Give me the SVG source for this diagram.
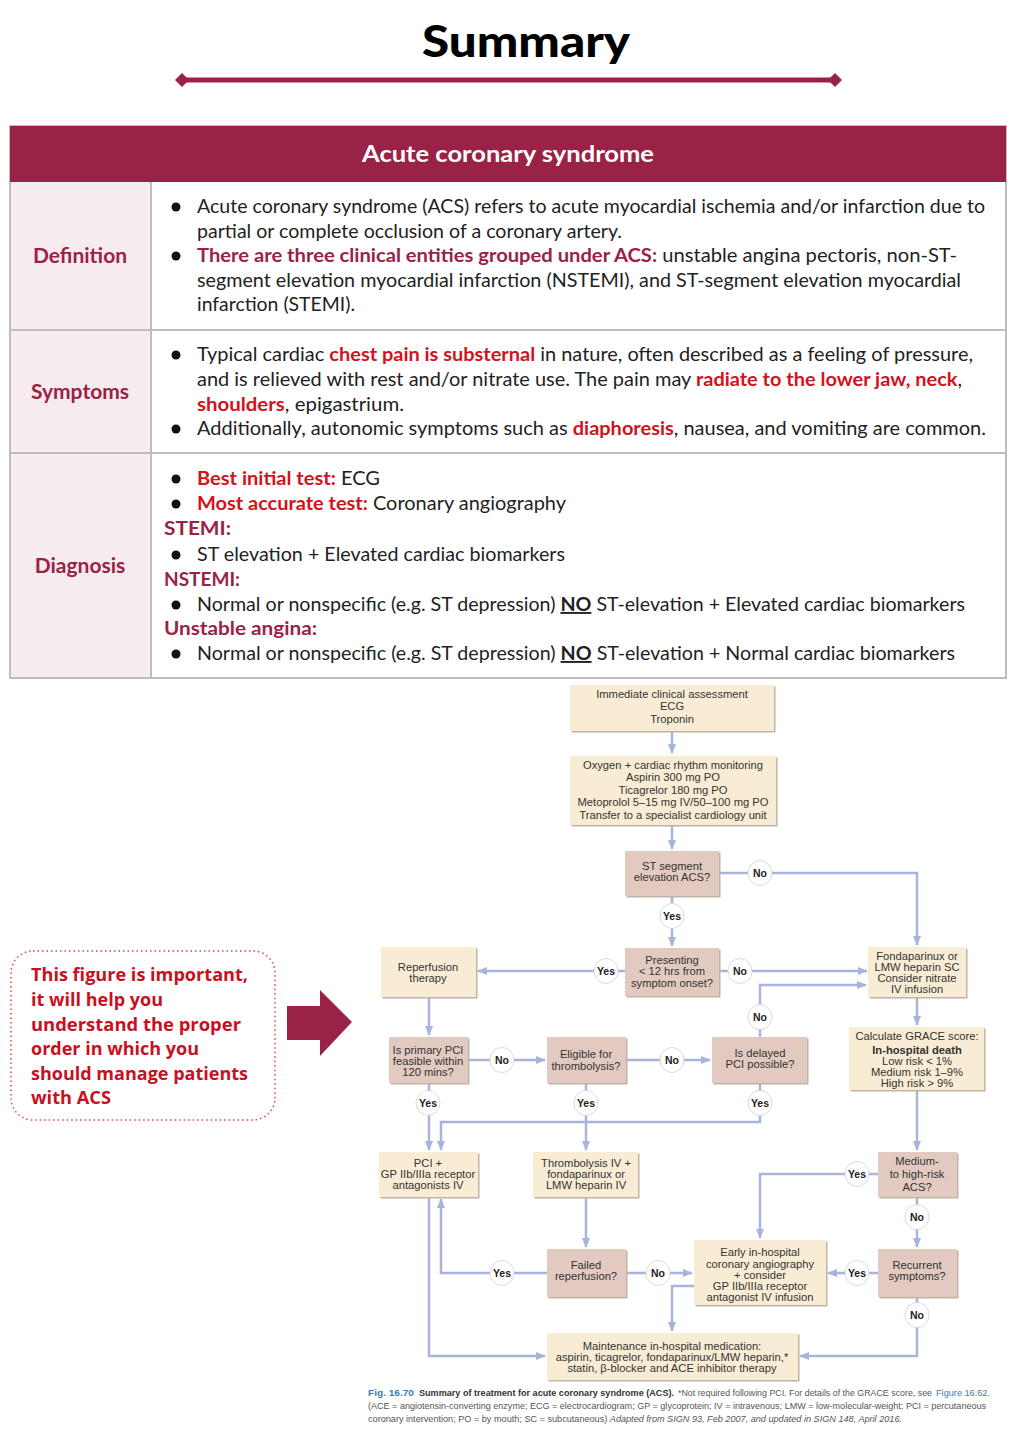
<svg xmlns="http://www.w3.org/2000/svg" width="1024" height="1444" viewBox="0 0 1024 1444">
<style>
.body{font-family:Lato,"Open Sans","Liberation Sans",sans-serif;font-size:19px;fill:#222}
.red{fill:#d2121c;font-weight:bold}
.mar{fill:#9b2247;font-weight:bold}
.lab{font-family:Lato,"Open Sans",sans-serif;font-size:21px;font-weight:bold;fill:#9b2247;text-anchor:middle}
.bul{fill:#111}
.fc{font-family:"Liberation Sans",Arial,sans-serif;font-size:11.2px;fill:#333;text-anchor:middle}
.yn{font-family:"Liberation Sans",Arial,sans-serif;font-size:10.5px;font-weight:bold;fill:#222;text-anchor:middle}
.act{fill:#f8edd4}
.dec{fill:#e2cac1}
.sh{fill:#bfb4a6}
.conn{fill:none;stroke:#a9b4dd;stroke-width:2.5}
.ell{fill:#fff;stroke:#d0d0d0;stroke-width:0.8}
.cap{font-family:"Liberation Sans",Arial,sans-serif;font-size:9.5px;fill:#555}
.cap1{font-family:"Liberation Sans",Arial,sans-serif;font-size:8.2px;fill:#555}
.callout{font-family:"Open Sans",Lato,sans-serif;font-size:18.5px;font-weight:bold;fill:#c8101e}
</style>
<defs>
<marker id="ah" markerUnits="userSpaceOnUse" markerWidth="10" markerHeight="10" viewBox="0 0 10 10" refX="9" refY="5" orient="auto">
<path d="M0,1 L10,5 L0,9 Z" fill="#a9b4dd"/>
</marker>
</defs>
<rect width="1024" height="1444" fill="#fff"/>

<!-- Title -->
<g id="title">
<text x="526" y="57" text-anchor="middle" font-family="Lato,'Open Sans',sans-serif" font-size="44" font-weight="900" fill="#000" textLength="208" lengthAdjust="spacingAndGlyphs">Summary</text>
<line x1="181" y1="80" x2="835" y2="80" stroke="#9b2247" stroke-width="5"/>
<polygon points="175,80 182,73 189,80 182,87" fill="#9b2247"/>
<polygon points="828,80 835,73 842,80 835,87" fill="#9b2247"/>
</g>

<!-- Table -->
<g id="table">
<rect x="10" y="126" width="996" height="552" fill="#fff" stroke="#bdbdbd" stroke-width="2"/>
<rect x="10" y="126" width="996" height="56" fill="#9b2247"/>
<rect x="11" y="182" width="140" height="495" fill="#f6ebee"/>
<line x1="10" y1="330" x2="1006" y2="330" stroke="#bdbdbd" stroke-width="2"/>
<line x1="10" y1="453" x2="1006" y2="453" stroke="#bdbdbd" stroke-width="2"/>
<line x1="151" y1="182" x2="151" y2="678" stroke="#bdbdbd" stroke-width="2"/>
<text x="508" y="162" text-anchor="middle" font-family="Lato,'Open Sans',sans-serif" font-size="22" font-weight="bold" fill="#fff" textLength="292" lengthAdjust="spacingAndGlyphs">Acute coronary syndrome</text>

<text class="lab" x="80" y="263">Definition</text>
<text class="lab" x="80" y="399">Symptoms</text>
<text class="lab" x="80" y="573">Diagnosis</text>

<!-- Definition -->
<circle class="bul" cx="176" cy="207" r="4.5"/>
<text class="body" x="197" y="213" textLength="788" lengthAdjust="spacingAndGlyphs">Acute coronary syndrome (ACS) refers to acute myocardial ischemia and/or infarction due to</text>
<text class="body" x="197" y="238" textLength="425" lengthAdjust="spacingAndGlyphs">partial or complete occlusion of a coronary artery.</text>
<circle class="bul" cx="176" cy="256" r="4.5"/>
<text class="body" x="197" y="262" textLength="760" lengthAdjust="spacingAndGlyphs"><tspan class="mar">There are three clinical entities grouped under ACS:</tspan> unstable angina pectoris, non-ST-</text>
<text class="body" x="197" y="287" textLength="764" lengthAdjust="spacingAndGlyphs">segment elevation myocardial infarction (NSTEMI), and ST-segment elevation myocardial</text>
<text class="body" x="197" y="311" textLength="158" lengthAdjust="spacingAndGlyphs">infarction (STEMI).</text>

<!-- Symptoms -->
<circle class="bul" cx="176" cy="355" r="4.5"/>
<text class="body" x="197" y="361" textLength="776" lengthAdjust="spacingAndGlyphs">Typical cardiac <tspan class="red">chest pain is substernal</tspan> in nature, often described as a feeling of pressure,</text>
<text class="body" x="197" y="386" textLength="765" lengthAdjust="spacingAndGlyphs">and is relieved with rest and/or nitrate use. The pain may <tspan class="red">radiate to the lower jaw, neck</tspan>,</text>
<text class="body" x="197" y="411" textLength="207" lengthAdjust="spacingAndGlyphs"><tspan class="red">shoulders</tspan>, epigastrium.</text>
<circle class="bul" cx="176" cy="429" r="4.5"/>
<text class="body" x="197" y="435" textLength="789" lengthAdjust="spacingAndGlyphs">Additionally, autonomic symptoms such as <tspan class="red">diaphoresis</tspan>, nausea, and vomiting are common.</text>

<!-- Diagnosis -->
<circle class="bul" cx="176" cy="479" r="4.5"/>
<text class="body" x="197" y="485" textLength="183" lengthAdjust="spacingAndGlyphs"><tspan class="red">Best initial test:</tspan> ECG</text>
<circle class="bul" cx="176" cy="504" r="4.5"/>
<text class="body" x="197" y="510" textLength="369" lengthAdjust="spacingAndGlyphs"><tspan class="red">Most accurate test:</tspan> Coronary angiography</text>
<text class="body mar" x="164" y="535" textLength="67" lengthAdjust="spacingAndGlyphs">STEMI:</text>
<circle class="bul" cx="176" cy="555" r="4.5"/>
<text class="body" x="197" y="561" textLength="368" lengthAdjust="spacingAndGlyphs">ST elevation + Elevated cardiac biomarkers</text>
<text class="body mar" x="164" y="586" textLength="76" lengthAdjust="spacingAndGlyphs">NSTEMI:</text>
<circle class="bul" cx="176" cy="605" r="4.5"/>
<text class="body" x="197" y="611" textLength="768" lengthAdjust="spacingAndGlyphs">Normal or nonspecific (e.g. ST depression) <tspan font-weight="bold" text-decoration="underline">NO</tspan> ST-elevation + Elevated cardiac biomarkers</text>
<text class="body mar" x="164" y="635" textLength="153" lengthAdjust="spacingAndGlyphs">Unstable angina:</text>
<circle class="bul" cx="176" cy="654" r="4.5"/>
<text class="body" x="197" y="660" textLength="758" lengthAdjust="spacingAndGlyphs">Normal or nonspecific (e.g. ST depression) <tspan font-weight="bold" text-decoration="underline">NO</tspan> ST-elevation + Normal cardiac biomarkers</text>
</g>

<!-- Callout -->
<g id="callout">
<rect x="11" y="951" width="264" height="169" rx="22" fill="#fff" stroke="#d9464f" stroke-width="1.5" stroke-dasharray="1.5 3"/>
<text class="callout" x="31" y="981" textLength="217" lengthAdjust="spacingAndGlyphs">This figure is important,</text>
<text class="callout" x="31" y="1006" textLength="132" lengthAdjust="spacingAndGlyphs">it will help you</text>
<text class="callout" x="31" y="1031" textLength="210" lengthAdjust="spacingAndGlyphs">understand  the proper</text>
<text class="callout" x="31" y="1055" textLength="168" lengthAdjust="spacingAndGlyphs">order in which you</text>
<text class="callout" x="31" y="1080" textLength="217" lengthAdjust="spacingAndGlyphs">should manage patients</text>
<text class="callout" x="31" y="1104" textLength="80" lengthAdjust="spacingAndGlyphs">with ACS</text>
</g>
<g id="bigarrow">
<polygon points="287,1006 320,1006 320,990 352,1022 320,1056 320,1040 287,1040" fill="#9b2247"/>
</g>

<!-- Connectors -->
<g id="connectors">
<path class="conn" d="M672,731 V753" marker-end="url(#ah)"/>
<path class="conn" d="M672,825 V849" marker-end="url(#ah)"/>
<path class="conn" d="M719,873 H917 V945" marker-end="url(#ah)"/>
<path class="conn" d="M672,896 V946" marker-end="url(#ah)"/>
<path class="conn" d="M625,971 H478" marker-end="url(#ah)"/>
<path class="conn" d="M719,971 H867" marker-end="url(#ah)"/>
<path class="conn" d="M917,997 V1025" marker-end="url(#ah)"/>
<path class="conn" d="M917,1090 V1150" marker-end="url(#ah)"/>
<path class="conn" d="M878,1174 H760 V1238" marker-end="url(#ah)"/>
<path class="conn" d="M917,1197 V1247" marker-end="url(#ah)"/>
<path class="conn" d="M878,1273 H828" marker-end="url(#ah)"/>
<path class="conn" d="M917,1297 V1356 H800" marker-end="url(#ah)"/>
<path class="conn" d="M694,1286 H672 V1331" marker-end="url(#ah)"/>
<path class="conn" d="M626,1273 H692" marker-end="url(#ah)"/>
<path class="conn" d="M547,1273 H441 V1199" marker-end="url(#ah)"/>
<path class="conn" d="M586,1197 V1247" marker-end="url(#ah)"/>
<path class="conn" d="M429,997 V1035" marker-end="url(#ah)"/>
<path class="conn" d="M429,1197 V1356 H545" marker-end="url(#ah)"/>
<path class="conn" d="M468,1060 H545" marker-end="url(#ah)"/>
<path class="conn" d="M626,1060 H710" marker-end="url(#ah)"/>
<path class="conn" d="M760,1037 V985 H866" marker-end="url(#ah)"/>
<path class="conn" d="M429,1083 V1150" marker-end="url(#ah)"/>
<path class="conn" d="M586,1083 V1150" marker-end="url(#ah)"/>
<path class="conn" d="M760,1083 V1122 H441 V1150" marker-end="url(#ah)"/>
</g>

<!-- Nodes -->
<g id="n-assess">
<rect class="sh" x="571.5" y="686.5" width="204" height="46"/>
<rect class="act" x="570" y="685" width="204" height="46"/>
<text class="fc" x="672" y="698">Immediate clinical assessment</text>
<text class="fc" x="672" y="710">ECG</text>
<text class="fc" x="672" y="723">Troponin</text>
</g>
<g id="n-oxygen">
<rect class="sh" x="571.5" y="757.5" width="206" height="69"/>
<rect class="act" x="570" y="756" width="206" height="69"/>
<text class="fc" x="673" y="769">Oxygen + cardiac rhythm monitoring</text>
<text class="fc" x="673" y="781">Aspirin 300 mg PO</text>
<text class="fc" x="673" y="794">Ticagrelor 180 mg PO</text>
<text class="fc" x="673" y="806">Metoprolol 5–15 mg IV/50–100 mg PO</text>
<text class="fc" x="673" y="819">Transfer to a specialist cardiology unit</text>
</g>
<g id="n-stseg">
<rect class="sh" x="626.5" y="852.5" width="94" height="45"/>
<rect class="dec" x="625" y="851" width="94" height="45"/>
<text class="fc" x="672" y="870">ST segment</text>
<text class="fc" x="672" y="881">elevation ACS?</text>
</g>
<g id="n-presenting">
<rect class="sh" x="626.5" y="949.5" width="94" height="48"/>
<rect class="dec" x="625" y="948" width="94" height="48"/>
<text class="fc" x="672" y="964">Presenting</text>
<text class="fc" x="672" y="975">&lt; 12 hrs from</text>
<text class="fc" x="672" y="987">symptom onset?</text>
</g>
<g id="n-reperfusion">
<rect class="sh" x="382.5" y="948.5" width="95" height="50"/>
<rect class="act" x="381" y="947" width="95" height="50"/>
<text class="fc" x="428" y="971">Reperfusion</text>
<text class="fc" x="428" y="982">therapy</text>
</g>
<g id="n-fonda">
<rect class="sh" x="869.5" y="948.5" width="98" height="50"/>
<rect class="act" x="868" y="947" width="98" height="50"/>
<text class="fc" x="917" y="960">Fondaparinux or</text>
<text class="fc" x="917" y="971">LMW heparin SC</text>
<text class="fc" x="917" y="982">Consider nitrate</text>
<text class="fc" x="917" y="993">IV infusion</text>
</g>
<g id="n-grace">
<rect class="sh" x="850.5" y="1028.5" width="135" height="63"/>
<rect class="act" x="849" y="1027" width="135" height="63"/>
<text class="fc" x="917" y="1040">Calculate GRACE score:</text>
<text class="fc" x="917" y="1054" font-weight="bold">In-hospital death</text>
<text class="fc" x="917" y="1065">Low risk &lt; 1%</text>
<text class="fc" x="917" y="1076">Medium risk 1–9%</text>
<text class="fc" x="917" y="1087">High risk &gt; 9%</text>
</g>
<g id="n-primarypci">
<rect class="sh" x="390.5" y="1038.5" width="79" height="46"/>
<rect class="dec" x="389" y="1037" width="79" height="46"/>
<text class="fc" x="428" y="1054">Is primary PCI</text>
<text class="fc" x="428" y="1065">feasible within</text>
<text class="fc" x="428" y="1076">120 mins?</text>
</g>
<g id="n-eligible">
<rect class="sh" x="548.5" y="1038.5" width="79" height="46"/>
<rect class="dec" x="547" y="1037" width="79" height="46"/>
<text class="fc" x="586" y="1058">Eligible for</text>
<text class="fc" x="586" y="1070">thrombolysis?</text>
</g>
<g id="n-delayed">
<rect class="sh" x="713.5" y="1038.5" width="95" height="46"/>
<rect class="dec" x="712" y="1037" width="95" height="46"/>
<text class="fc" x="760" y="1057">Is delayed</text>
<text class="fc" x="760" y="1068">PCI possible?</text>
</g>
<g id="n-pci">
<rect class="sh" x="380.5" y="1153.5" width="99" height="45"/>
<rect class="act" x="379" y="1152" width="99" height="45"/>
<text class="fc" x="428" y="1167">PCI +</text>
<text class="fc" x="428" y="1178">GP IIb/IIIa receptor</text>
<text class="fc" x="428" y="1189">antagonists IV</text>
</g>
<g id="n-thrombolysis">
<rect class="sh" x="534.5" y="1153.5" width="105" height="45"/>
<rect class="act" x="533" y="1152" width="105" height="45"/>
<text class="fc" x="586" y="1167">Thrombolysis IV +</text>
<text class="fc" x="586" y="1178">fondaparinux or</text>
<text class="fc" x="586" y="1189">LMW heparin IV</text>
</g>
<g id="n-medium">
<rect class="sh" x="879.5" y="1153.5" width="79" height="45"/>
<rect class="dec" x="878" y="1152" width="79" height="45"/>
<text class="fc" x="917" y="1165">Medium-</text>
<text class="fc" x="917" y="1178">to high-risk</text>
<text class="fc" x="917" y="1191">ACS?</text>
</g>
<g id="n-failed">
<rect class="sh" x="548.5" y="1250.5" width="79" height="48"/>
<rect class="dec" x="547" y="1249" width="79" height="48"/>
<text class="fc" x="586" y="1269">Failed</text>
<text class="fc" x="586" y="1280">reperfusion?</text>
</g>
<g id="n-early">
<rect class="sh" x="695.5" y="1241.5" width="132" height="65"/>
<rect class="act" x="694" y="1240" width="132" height="65"/>
<text class="fc" x="760" y="1256">Early in-hospital</text>
<text class="fc" x="760" y="1268">coronary angiography</text>
<text class="fc" x="760" y="1279">+ consider</text>
<text class="fc" x="760" y="1290">GP IIb/IIIa receptor</text>
<text class="fc" x="760" y="1301">antagonist IV infusion</text>
</g>
<g id="n-recurrent">
<rect class="sh" x="879.5" y="1250.5" width="79" height="48"/>
<rect class="dec" x="878" y="1249" width="79" height="48"/>
<text class="fc" x="917" y="1269">Recurrent</text>
<text class="fc" x="917" y="1280">symptoms?</text>
</g>
<g id="n-maintenance">
<rect class="sh" x="548.5" y="1334.5" width="251" height="47"/>
<rect class="act" x="547" y="1333" width="251" height="47"/>
<text class="fc" x="672" y="1350">Maintenance in-hospital medication:</text>
<text class="fc" x="672" y="1361">aspirin, ticagrelor, fondaparinux/LMW heparin,*</text>
<text class="fc" x="672" y="1372">statin, β-blocker and ACE inhibitor therapy</text>
</g>

<!-- Yes/No labels -->
<g id="labels">
<ellipse class="ell" cx="760" cy="873" rx="12" ry="12.5"/><text class="yn" x="760" y="877">No</text>
<ellipse class="ell" cx="672" cy="916" rx="12" ry="12.5"/><text class="yn" x="672" y="920">Yes</text>
<ellipse class="ell" cx="606" cy="971" rx="12" ry="12.5"/><text class="yn" x="606" y="975">Yes</text>
<ellipse class="ell" cx="740" cy="971" rx="12" ry="12.5"/><text class="yn" x="740" y="975">No</text>
<ellipse class="ell" cx="760" cy="1017" rx="12" ry="12.5"/><text class="yn" x="760" y="1021">No</text>
<ellipse class="ell" cx="502" cy="1060" rx="12" ry="12.5"/><text class="yn" x="502" y="1064">No</text>
<ellipse class="ell" cx="672" cy="1060" rx="12" ry="12.5"/><text class="yn" x="672" y="1064">No</text>
<ellipse class="ell" cx="428" cy="1103" rx="12" ry="12.5"/><text class="yn" x="428" y="1107">Yes</text>
<ellipse class="ell" cx="586" cy="1103" rx="12" ry="12.5"/><text class="yn" x="586" y="1107">Yes</text>
<ellipse class="ell" cx="760" cy="1103" rx="12" ry="12.5"/><text class="yn" x="760" y="1107">Yes</text>
<ellipse class="ell" cx="857" cy="1174" rx="12" ry="12.5"/><text class="yn" x="857" y="1178">Yes</text>
<ellipse class="ell" cx="917" cy="1217" rx="12" ry="12.5"/><text class="yn" x="917" y="1221">No</text>
<ellipse class="ell" cx="502" cy="1273" rx="12" ry="12.5"/><text class="yn" x="502" y="1277">Yes</text>
<ellipse class="ell" cx="658" cy="1273" rx="12" ry="12.5"/><text class="yn" x="658" y="1277">No</text>
<ellipse class="ell" cx="857" cy="1273" rx="12" ry="12.5"/><text class="yn" x="857" y="1277">Yes</text>
<ellipse class="ell" cx="917" cy="1315" rx="12" ry="12.5"/><text class="yn" x="917" y="1319">No</text>
</g>

<!-- Caption -->
<g id="caption">
<text class="cap1" x="368" y="1396" font-weight="bold" style="fill:#3a78c0" textLength="46" lengthAdjust="spacingAndGlyphs">Fig. 16.70</text>
<text class="cap1" x="419" y="1396" font-weight="bold" style="fill:#333" textLength="255" lengthAdjust="spacingAndGlyphs">Summary of treatment for acute coronary syndrome (ACS).</text>
<text class="cap1" x="678" y="1396" textLength="254" lengthAdjust="spacingAndGlyphs">*Not required following PCI. For details of the GRACE score, see</text>
<text class="cap1" x="936" y="1396" style="fill:#3a78c0" textLength="54" lengthAdjust="spacingAndGlyphs">Figure 16.62.</text>
<text class="cap" x="368" y="1409" textLength="618" lengthAdjust="spacingAndGlyphs">(ACE = angiotensin-converting enzyme; ECG = electrocardiogram; GP = glycoprotein; IV = intravenous; LMW = low-molecular-weight; PCI = percutaneous</text>
<text class="cap" x="368" y="1422" textLength="534" lengthAdjust="spacingAndGlyphs">coronary intervention; PO = by mouth; SC = subcutaneous) <tspan font-style="italic">Adapted from SIGN 93, Feb 2007, and updated in SIGN 148, April 2016.</tspan></text>
</g>
</svg>
